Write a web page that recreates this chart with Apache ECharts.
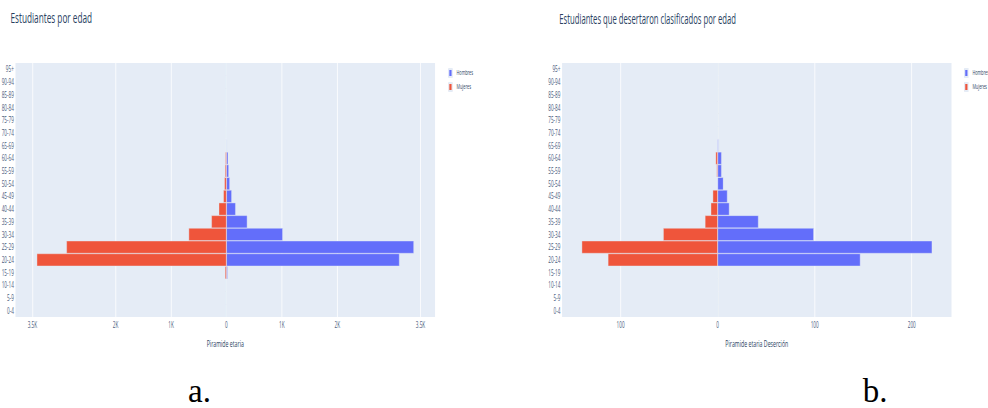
<!DOCTYPE html>
<html>
<head>
<meta charset="utf-8">
<script src="https://cdn.jsdelivr.net/npm/echarts@6/dist/echarts.min.js"></script>
<style>
  html, body { margin: 0; padding: 0; background: #ffffff; width: 988px; height: 408px; overflow: hidden; }
  #chart { width: 1797px; height: 408px; transform: scaleX(0.55); transform-origin: 0 0; }
</style>
</head>
<body>
<div id="chart"></div>
<script>
// Age groups (bottom to top)
const ageGroups = ["0-4","5-9","10-14","15-19","20-24","25-29","30-34","35-39","40-44","45-49",
                   "50-54","55-59","60-64","65-69","70-74","75-79","80-84","85-89","90-94","95+"];

// a. Estudiantes por edad
const studentsMen   = [0, 0, 0, 20, 3120, 3380, 1015, 375, 165, 95, 60, 42, 30, 8, 2, 0, 0, 0, 0, 0];
const studentsWomen = [0, 0, 0, -25, -3420, -2885, -680, -270, -137, -54, -36, -24, -18, -4, -4, 0, 0, 0, 0, 0];

// b. Estudiantes que desertaron
const dropoutMen    = [0, 0, 0, 0, 147, 221, 99, 42, 12, 10, 6, 4, 4, 1, 0, 0, 0, 0, 0, 0];
const dropoutWomen  = [0, 0, 0, 0, -113, -140, -56, -13, -7, -5, 0, -1, -2, 0, 0, 0, 0, 0, 0, 0];

// tick values
const ticksA = [-3500, -2000, -1000, 0, 1000, 2000, 3500];
const ticksB = [-100, 0, 100, 200];

const legendNames = ["Hombres", "Mujeres"];
const titles = ["Estudiantes por edad", "Estudiantes que desertaron clasificados por edad"];
const axisNames = ["Piramide etaria", "Piramide etaria Deserción"];
const panelLabels = ["a.", "b."];

const FONT = "Open Sans";
const TXT = "#2a3f5f";
const TICK = "#4a5d7e";
const BLUE = "#636EFA";
const RED = "#EF553B";
const SQ = 0.55;

function fmtK(v) {
  const a = Math.abs(v);
  if (a === 0) return "0";
  return (a / 1000) + "K";
}

function xAxisCfg(gridIndex, min, max, ticks, name, fmt) {
  return {
    type: "value", gridIndex, min, max,
    name, nameLocation: "middle", nameGap: 21,
    nameTextStyle: { fontFamily: FONT, fontSize: 9.5, color: TXT },
    axisLine: { show: false },
    axisTick: { show: false, customValues: ticks },
    axisLabel: { customValues: ticks, formatter: fmt, fontFamily: FONT, fontSize: 8.5, color: TICK, margin: 3 },
    splitLine: { show: true, lineStyle: { color: "#ffffff", width: 1 } }
  };
}
function yAxisCfg(gridIndex) {
  return {
    type: "category", gridIndex, data: ageGroups,
    axisLine: { show: false, onZero: false },
    axisTick: { show: false },
    axisLabel: { fontFamily: FONT, fontSize: 8.5, color: TICK, margin: 3, interval: 0 },
    splitLine: { show: false }
  };
}
function barSeries(name, data, idx, color) {
  return {
    name, type: "bar", data, stack: "s" + idx,
    xAxisIndex: idx, yAxisIndex: idx,
    barCategoryGap: "0%",
    itemStyle: { color, borderColor: "#E5ECF6", borderWidth: 0.5 },
    emphasis: { disabled: true }
  };
}
function legendCfg(left) {
  return {
    data: legendNames, orient: "vertical", left, top: 68, padding: 0,
    icon: "rect", itemWidth: 6, itemHeight: 8, itemGap: 4,
    textStyle: { fontFamily: FONT, fontSize: 7, color: TXT, padding: [0, 0, 0, 3] }
  };
}

const chart = echarts.init(document.getElementById("chart"), null, { renderer: "svg" });
chart.setOption({
  animation: false,
  backgroundColor: "#ffffff",
  title: [
    { text: titles[0], left: 19, top: 10, padding: 0, textStyle: { fontFamily: FONT, fontSize: 15, fontWeight: "normal", color: TXT } },
    { text: titles[1], left: 1017, top: 11, padding: 0, textStyle: { fontFamily: FONT, fontSize: 14, fontWeight: "normal", color: TXT } }
  ],
  legend: [legendCfg(815), legendCfg(1753)],
  grid: [
    { left: 23, top: 63, width: 768, height: 254, show: true, backgroundColor: "#E5ECF6", borderWidth: 0 },
    { left: 1022, top: 63, width: 708, height: 254, show: true, backgroundColor: "#E5ECF6", borderWidth: 0 }
  ],
  xAxis: [
    xAxisCfg(0, -3805, 3763, ticksA, axisNames[0], fmtK),
    xAxisCfg(1, -160.3, 241, ticksB, axisNames[1], v => String(Math.abs(v)))
  ],
  yAxis: [yAxisCfg(0), yAxisCfg(1)],
  series: [
    barSeries(legendNames[0], studentsMen, 0, BLUE),
    barSeries(legendNames[1], studentsWomen, 0, RED),
    barSeries(legendNames[0], dropoutMen, 1, BLUE),
    barSeries(legendNames[1], dropoutWomen, 1, RED)
  ],
  graphic: [
    { type: "text", x: 342, y: 391, scaleX: 1 / SQ, silent: true,
      style: { text: panelLabels[0], fontFamily: "Liberation Serif", fontSize: 33, lineHeight: 24, fill: "#000", align: "left", verticalAlign: "middle" } },
    { type: "text", x: 1568.5, y: 391, scaleX: 1 / SQ, silent: true,
      style: { text: panelLabels[1], fontFamily: "Liberation Serif", fontSize: 33, lineHeight: 24, fill: "#000", align: "left", verticalAlign: "middle" } }
  ]
});
</script>
</body>
</html>
